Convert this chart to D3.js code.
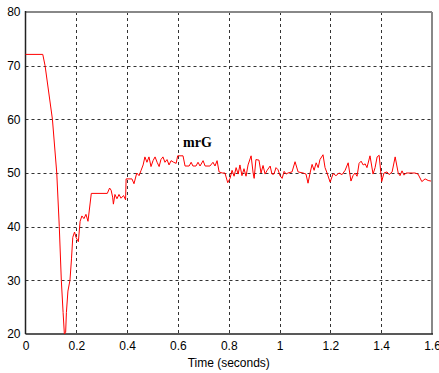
<!DOCTYPE html>
<html>
<head>
<meta charset="utf-8">
<script src="https://cdn.jsdelivr.net/npm/d3@7"></script>
<style>
  body { margin: 0; background: #fff; }
  .tick text { font-family: "Liberation Sans", Arial, sans-serif; font-size: 12px; fill: #000; }
</style>
</head>
<body>
<div class="chart"></div>
<script>
// time (s) and mrG value
const timeData = [0, 0.068, 0.077, 0.106, 0.123, 0.133, 0.141, 0.148, 0.153, 0.158, 0.161, 0.167, 0.175, 0.181, 0.186, 0.193, 0.199, 0.208, 0.215, 0.222, 0.230, 0.238, 0.246, 0.259, 0.322, 0.331, 0.337, 0.343, 0.346, 0.352, 0.360, 0.368, 0.376, 0.386, 0.394, 0.396, 0.419, 0.427, 0.438, 0.447, 0.455, 0.463, 0.470, 0.478, 0.486, 0.494, 0.502, 0.510, 0.518, 0.526, 0.533, 0.541, 0.549, 0.557, 0.565, 0.573, 0.583, 0.593, 0.599, 0.620, 0.628, 0.644, 0.652, 0.659, 0.671, 0.679, 0.687, 0.699, 0.707, 0.726, 0.738, 0.746, 0.754, 0.762, 0.774, 0.785, 0.796, 0.805, 0.813, 0.821, 0.829, 0.837, 0.844, 0.852, 0.860, 0.868, 0.876, 0.888, 0.896, 0.900, 0.907, 0.919, 0.927, 0.935, 0.943, 0.951, 0.963, 0.970, 0.978, 0.986, 0.994, 1.002, 1.010, 1.018, 1.026, 1.033, 1.049, 1.061, 1.073, 1.093, 1.104, 1.112, 1.120, 1.128, 1.136, 1.144, 1.152, 1.159, 1.171, 1.179, 1.187, 1.199, 1.211, 1.222, 1.234, 1.246, 1.258, 1.270, 1.281, 1.289, 1.297, 1.305, 1.313, 1.321, 1.329, 1.337, 1.344, 1.356, 1.368, 1.376, 1.384, 1.392, 1.402, 1.411, 1.423, 1.431, 1.443, 1.455, 1.467, 1.474, 1.482, 1.490, 1.498, 1.522, 1.533, 1.545, 1.560, 1.573, 1.585, 1.596];
const mrgData = [72.1, 72.1, 70, 60, 50, 40, 30, 24, 20, 20.3, 24, 28, 30, 34, 38, 39, 38, 37.2, 41, 42, 41.5, 42.3, 41, 46.2, 46.2, 47.2, 46.8, 45.5, 44.2, 46, 45.2, 46, 45.3, 45.8, 45, 48.9, 48.9, 48, 50, 49.5, 50.5, 51.5, 53, 52, 53, 51.2, 52.3, 53, 52, 51.2, 52.5, 53, 52, 52.5, 51.5, 52.3, 52, 51.8, 53.2, 53.2, 51.3, 51.3, 52, 51.3, 51.3, 52, 51.3, 52.3, 51.3, 51.3, 52, 51.3, 52.3, 50.2, 50, 50, 48.2, 49, 50.5, 49.4, 51, 49.8, 51.5, 49.5, 50.8, 49.4, 51.5, 53.2, 50, 49, 52.5, 52.4, 50, 51.4, 49.8, 50.5, 51.3, 49.8, 49.8, 51, 50.6, 49.5, 49, 50.3, 49.8, 50, 50.2, 52.1, 50.2, 50, 49.8, 48.1, 50, 51.6, 50.5, 51.9, 51, 52.5, 53.4, 51, 50, 48.3, 49.9, 49.5, 50, 49.7, 50.5, 51.9, 48.5, 49.5, 50, 49.4, 51.8, 52.2, 51.5, 51.7, 51, 53.2, 49.8, 51, 53, 53.3, 48.4, 50, 50.2, 49.7, 50.2, 53, 50, 49.5, 50.4, 49.6, 50, 50, 50, 49.8, 48.4, 48.9, 48.6, 48.5];
const xTicks = [0, 0.2, 0.4, 0.6, 0.8, 1, 1.2, 1.4, 1.6];
const yTicks = [20, 30, 40, 50, 60, 70, 80];
const seriesLabel = 'mrG';
const xLabel = 'Time (seconds)';

const width = 439, height = 373;
const margin = { top: 12, right: 7, bottom: 39, left: 25.5 };

const svg = d3.select('.chart').append('svg')
  .attr('width', width)
  .attr('height', height)
  .style('background-color', 'white');

const xScale = d3.scaleLinear()
  .domain([0, 1.6])
  .range([margin.left, width - margin.right]);

const yScale = d3.scaleLinear()
  .domain([20, 80])
  .range([height - margin.bottom, margin.top]);

const x0 = xScale.range()[0], x1 = xScale.range()[1];
const y0 = yScale.range()[0], y1 = yScale.range()[1];

// dotted grid
const grid = svg.append('g').attr('class', 'grid')
  .style('stroke', '#333')
  .style('stroke-width', 1)
  .style('stroke-dasharray', '3,3');

grid.selectAll('.vgrid')
  .data(xTicks.slice(1, -1))
  .enter().append('line')
  .attr('x1', d => Math.round(xScale(d)) + 0.5)
  .attr('x2', d => Math.round(xScale(d)) + 0.5)
  .attr('y1', y1)
  .attr('y2', y0);

grid.selectAll('.hgrid')
  .data(yTicks.slice(1, -1))
  .enter().append('line')
  .attr('x1', x0)
  .attr('x2', x1)
  .attr('y1', d => Math.round(yScale(d)) + 0.5)
  .attr('y2', d => Math.round(yScale(d)) + 0.5);

// axes
const xAxis = svg.append('g')
  .attr('class', 'x axis')
  .attr('transform', `translate(0, ${y0})`)
  .call(d3.axisBottom(xScale).tickValues(xTicks).tickFormat(d3.format('~g')).tickSize(0).tickPadding(7));

const yAxis = svg.append('g')
  .attr('class', 'y axis')
  .attr('transform', `translate(${x0}, 0)`)
  .call(d3.axisLeft(yScale).tickValues(yTicks).tickSize(0).tickPadding(5));

svg.selectAll('.domain').remove();

// box: top/right grey, left/bottom dark
svg.append('line')
  .attr('x1', x0).attr('x2', x1).attr('y1', y1).attr('y2', y1)
  .style('stroke', '#888').style('stroke-width', 2);
svg.append('line')
  .attr('x1', x1).attr('x2', x1).attr('y1', y1).attr('y2', y0)
  .style('stroke', '#888').style('stroke-width', 2);
svg.append('line')
  .attr('x1', x0).attr('x2', x0).attr('y1', y1 - 1).attr('y2', y0)
  .style('stroke', '#222').style('stroke-width', 1.5);
svg.append('line')
  .attr('x1', x0).attr('x2', x1 + 1).attr('y1', y0).attr('y2', y0)
  .style('stroke', '#222').style('stroke-width', 1.5);

// the series
const line = d3.line()
  .x((d, i) => xScale(timeData[i]))
  .y(d => yScale(d));

svg.append('path')
  .datum(mrgData)
  .attr('class', 'data-line')
  .style('stroke', '#ff0000')
  .style('stroke-width', 1)
  .style('fill', 'none')
  .attr('d', line);

// labels
svg.append('text')
  .attr('x', xScale(0.62))
  .attr('y', yScale(54.8))
  .style('font-family', '"Liberation Serif", "Times New Roman", serif')
  .style('font-weight', 'bold')
  .style('font-size', '14px')
  .text(seriesLabel);

svg.append('text')
  .attr('x', (x0 + x1) / 2)
  .attr('y', 367)
  .attr('text-anchor', 'middle')
  .style('font-family', '"Liberation Sans", Arial, sans-serif')
  .style('font-size', '12px')
  .text(xLabel);
</script>
</body>
</html>
